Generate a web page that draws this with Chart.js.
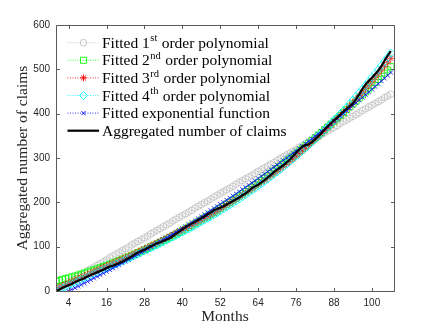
<!DOCTYPE html>
<html>
<head>
<meta charset="utf-8">
<script src="https://cdn.jsdelivr.net/npm/chart.js@4.4.0/dist/chart.umd.min.js"></script>
<style>
  html, body { margin: 0; padding: 0; background: #fff; }
  #wrap { width: 436px; height: 327px; }
</style>
</head>
<body>
<div id="wrap"><canvas id="chart" width="436" height="327"></canvas></div>
<script>
// months on the x axis
const months = [0,1,2,3,4,5,6,7,8,9,10,11,12,13,14,15,16,17,18,19,20,21,22,23,24,25,26,27,28,29,30,31,32,33,34,35,36,37,38,39,40,41,42,43,44,45,46,47,48,49,50,51,52,53,54,55,56,57,58,59,60,61,62,63,64,65,66,67,68,69,70,71,72,73,74,75,76,77,78,79,80,81,82,83,84,85,86,87,88,89,90,91,92,93,94,95,96,97,98,99,100,101,102,103,104,105,106];

// aggregated number of claims (black)
const claims = [0,3,7,10,13,16,20,23,26,29,33,36,39,42,45,48,52,55,57,60,63,66,70,74,78,83,87,90,93,97,101,104,108,110,113,116,119,124,129,134,139,144,148,152,156,160,164,168,173,177,182,185,188,191,195,199,203,207,211,216,220,226,232,236,240,245,250,256,262,268,274,279,284,290,296,304,312,319,326,329,331,336,342,349,356,364,371,378,385,391,398,405,411,417,423,433,444,456,466,474,481,489,497,507,520,531,541];

// fitted curves
const fit1st = [4,8,12,16,21,25,29,33,37,41,46,50,54,58,62,66,70,75,79,83,87,91,95,99,104,108,112,116,120,124,129,133,137,141,145,149,153,158,162,166,170,174,178,182,187,191,195,199,203,207,212,216,220,224,228,232,236,241,245,249,253,257,261,265,270,274,278,282,286,290,295,299,303,307,311,315,319,324,328,332,336,340,344,348,353,357,361,365,369,373,378,382,386,390,394,398,402,407,411,415,419,423,427,431,436,440,444];
const fit2nd = [22.0,23.8,25.7,27.7,29.7,31.7,33.8,36.0,38.2,40.4,42.7,45.1,47.5,49.9,52.5,55.0,57.6,60.3,63.0,65.8,68.6,71.5,74.4,77.4,80.4,83.5,86.7,89.9,93.1,96.4,99.7,103.1,106.6,110.1,113.6,117.2,120.9,124.6,128.4,132.2,136.0,140.0,143.9,147.9,152.0,156.1,160.3,164.6,168.8,173.2,177.6,182.0,186.5,191.0,195.6,200.3,205.0,209.7,214.5,219.4,224.3,229.2,234.2,239.3,244.4,249.6,254.8,260.1,265.4,270.7,276.2,281.6,287.2,292.8,298.4,304.1,309.8,315.6,321.4,327.3,333.3,339.3,345.3,351.4,357.6,363.8,370.0,376.4,382.7,389.1,395.6,402.1,408.7,415.3,422.0,428.7,435.5,442.3,449.2,456.1,463.1,470.1,477.2,484.4,491.6,498.8,506.1];
const fit3rd = [5.0,8.3,11.5,14.8,18.0,21.3,24.5,27.7,30.9,34.1,37.2,40.4,43.6,46.8,50.0,53.2,56.3,59.5,62.7,65.9,69.1,72.4,75.6,78.8,82.1,85.4,88.7,92.0,95.3,98.6,102.0,105.4,108.8,112.3,115.7,119.2,122.8,126.3,129.9,133.5,137.2,140.9,144.6,148.4,152.2,156.1,160.0,164.0,168.0,172.0,176.1,180.2,184.4,188.7,193.0,197.3,201.7,206.2,210.8,215.3,220.0,224.7,229.5,234.4,239.3,244.3,249.3,254.5,259.7,264.9,270.3,275.7,281.2,286.8,292.5,298.2,304.1,310.0,316.0,322.1,328.3,334.6,341.0,347.4,354.0,360.6,367.4,374.2,381.2,388.2,395.4,402.7,410.0,417.5,425.1,432.8,440.6,448.5,456.5,464.7,472.9,481.3,489.8,498.4,507.1,516.0,524.9];
const fit4th = [0.0,3.3,6.5,9.8,13.0,16.3,19.5,22.7,25.9,29.1,32.2,35.4,38.6,41.8,45.0,48.2,51.3,54.5,57.7,60.9,64.1,67.4,70.6,73.8,77.1,80.4,83.7,87.0,90.4,93.7,97.1,100.5,103.9,107.4,110.9,114.4,118.0,121.6,125.2,128.8,132.5,136.3,140.0,143.9,147.7,151.6,155.6,159.6,163.7,167.8,171.9,176.1,180.4,184.8,189.1,193.6,198.0,202.6,207.3,212.0,216.7,221.6,226.5,231.5,236.6,241.7,246.9,252.2,257.6,263.0,268.5,274.1,279.8,285.6,291.5,297.5,303.6,309.7,316.0,322.4,328.8,335.4,342.1,348.8,355.7,362.6,369.8,376.9,384.3,391.6,399.2,406.9,414.6,422.6,430.6,438.8,447.0,455.4,463.9,472.6,481.4,490.3,499.4,508.6,517.9,527.4,536.9];
const fitExp = [-14.1,-10.6,-7.2,-3.7,-0.1,3.4,7.0,10.6,14.2,17.8,21.4,25.1,28.8,32.5,36.3,40.0,43.8,47.6,51.4,55.3,59.1,63.0,66.9,70.9,74.8,78.8,82.8,86.9,90.9,95.0,99.1,103.2,107.4,111.5,115.7,120.0,124.2,128.5,132.8,137.1,141.5,145.8,150.2,154.7,159.1,163.6,168.1,172.6,177.2,181.8,186.4,191.0,195.7,200.4,205.1,209.8,214.6,219.4,224.2,229.1,234.0,238.9,243.9,248.8,253.8,258.9,263.9,269.0,274.1,279.3,284.5,289.7,294.9,300.2,305.5,310.9,316.2,321.6,327.1,332.5,338.0,343.5,349.1,354.7,360.3,366.0,371.7,377.4,383.2,389.0,394.8,400.6,406.5,412.5,418.4,424.4,430.5,436.5,442.6,448.8,455.0,461.2,467.4,473.7,480.0,486.4,492.8];

// ticks
const xTicks = [4,16,28,40,52,64,76,88,100];
const yTicks = [0,100,200,300,400,500,600];

// legend text: [before superscript, superscript, after]
const legendTexts = [
  ["Fitted 1", "st", " order polynomial"],
  ["Fitted 2", "nd", " order polynomial"],
  ["Fitted 3", "rd", " order polynomial"],
  ["Fitted 4", "th", " order polynomial"],
  ["Fitted exponential function", "", ""],
  ["Aggregated number of claims", "", ""],
];

const axisColor = "#262626";
const serif = "'Liberation Serif', 'Times New Roman', serif";
const sans = "'Liberation Sans', Arial, sans-serif";

function toPoints(ys) {
  return months.map((m, i) => ({ x: m, y: ys[i] }));
}

function fitSet(ys, color, style, radius, order) {
  return {
    data: toPoints(ys),
    borderColor: color,
    borderWidth: 0.6,
    borderDash: [1, 1.5],
    pointStyle: style,
    pointRadius: radius,
    pointBorderColor: color,
    pointBackgroundColor: "rgba(0,0,0,0)",
    pointBorderWidth: 0.8,
    fill: false,
    order: order,
  };
}

const datasets = [
  fitSet(fit1st, "#bdbdbd", "circle", 3.3, 6),
  fitSet(fit2nd, "#00ff00", "rect", 4.3, 5),
  fitSet(fit3rd, "#ff0000", "star", 3.5, 4),
  fitSet(fit4th, "#00ffff", "rectRot", 4, 3),
  fitSet(fitExp, "#0000ff", "crossRot", 3, 2),
  {
    data: toPoints(claims),
    borderColor: "#000000",
    borderWidth: 2.2,
    pointRadius: 0,
    fill: false,
    order: 1,
  },
];

// box round the plot, ticks pointing in, and the legend
const matlabLook = {
  id: "matlabLook",
  afterDraw(chart) {
    const ctx = chart.ctx;
    const a = chart.chartArea;
    const xs = chart.scales.x;
    const ys = chart.scales.y;
    const L = Math.round(a.left) + 0.5, R = Math.round(a.right) + 0.5;
    const T = Math.round(a.top) + 0.5, B = Math.round(a.bottom) + 0.5;
    ctx.save();
    ctx.strokeStyle = "#5a5a5a";
    ctx.lineWidth = 1;
    ctx.setLineDash([]);
    ctx.beginPath();
    ctx.rect(L, T, R - L, B - T);
    xTicks.forEach((v) => {
      const px = Math.round(xs.getPixelForValue(v)) + 0.5;
      ctx.moveTo(px, B); ctx.lineTo(px, B - 3.5);
      ctx.moveTo(px, T); ctx.lineTo(px, T + 3.5);
    });
    yTicks.forEach((v) => {
      const py = Math.round(ys.getPixelForValue(v)) + 0.5;
      ctx.moveTo(L, py); ctx.lineTo(L + 3.5, py);
      ctx.moveTo(R, py); ctx.lineTo(R - 3.5, py);
    });
    ctx.stroke();

    // legend
    const lx0 = 67.5, lx1 = 99, mx = 83.5, tx = 102, top = 42.7, step = 17.6;
    ctx.textBaseline = "middle";
    ctx.textAlign = "left";
    legendTexts.forEach((parts, i) => {
      const ds = chart.data.datasets[i];
      const y = top + i * step;
      ctx.save();
      ctx.strokeStyle = ds.borderColor;
      ctx.lineWidth = i === 5 ? 2.2 : 0.8;
      ctx.setLineDash(i === 5 ? [] : [1, 1.5]);
      ctx.beginPath();
      ctx.moveTo(lx0, y); ctx.lineTo(lx1, y);
      ctx.stroke();
      ctx.restore();
      if (ds.pointRadius > 0) {
        ctx.save();
        ctx.strokeStyle = ds.pointBorderColor;
        ctx.fillStyle = "rgba(0,0,0,0)";
        ctx.lineWidth = 0.9;
        Chart.helpers.drawPoint(ctx, {
          pointStyle: ds.pointStyle,
          radius: ds.pointRadius,
          borderWidth: 0.9,
          rotation: 0,
        }, mx, y);
        ctx.restore();
      }
      ctx.fillStyle = "#000";
      ctx.font = "15.5px " + serif;
      let x = tx;
      ctx.fillText(parts[0], x, y + 1);
      x += ctx.measureText(parts[0]).width;
      if (parts[1]) {
        ctx.font = "10.5px " + serif;
        ctx.fillText(parts[1], x + 0.5, y - 4);
        x += ctx.measureText(parts[1]).width + 1;
        ctx.font = "15.5px " + serif;
        ctx.fillText(parts[2], x, y + 1);
      }
    });
    ctx.restore();
  },
};

new Chart(document.getElementById("chart"), {
  type: "line",
  data: { datasets: datasets },
  options: {
    responsive: false,
    animation: false,
    devicePixelRatio: 1,
    layout: { padding: { top: 25, right: 42, bottom: 0, left: 0 } },
    plugins: {
      legend: { display: false },
      tooltip: { enabled: false },
    },
    elements: { line: { tension: 0 } },
    scales: {
      x: {
        type: "linear",
        min: 0,
        max: 107,
        afterBuildTicks: (s) => { s.ticks = xTicks.map((v) => ({ value: v })); },
        afterFit: (s) => { s.height = 36; },
        grid: { display: false, drawTicks: false },
        border: { display: false },
        ticks: { font: { family: sans, size: 10 }, color: axisColor, padding: 6, maxRotation: 0, autoSkip: false },
        title: { display: true, text: "Months", font: { family: serif, size: 15.5 }, color: axisColor, padding: { top: 0, bottom: 1 } },
      },
      y: {
        type: "linear",
        min: 0,
        max: 600,
        afterBuildTicks: (s) => { s.ticks = yTicks.map((v) => ({ value: v })); },
        afterFit: (s) => { s.width = 56; },
        grid: { display: false, drawTicks: false },
        border: { display: false },
        ticks: { font: { family: sans, size: 10 }, color: axisColor, padding: 6 },
        title: { display: true, text: "Aggregated number of claims", font: { family: serif, size: 15.5 }, color: axisColor, padding: { top: 14, bottom: 0 } },
      },
    },
  },
  plugins: [matlabLook],
});
</script>
</body>
</html>
